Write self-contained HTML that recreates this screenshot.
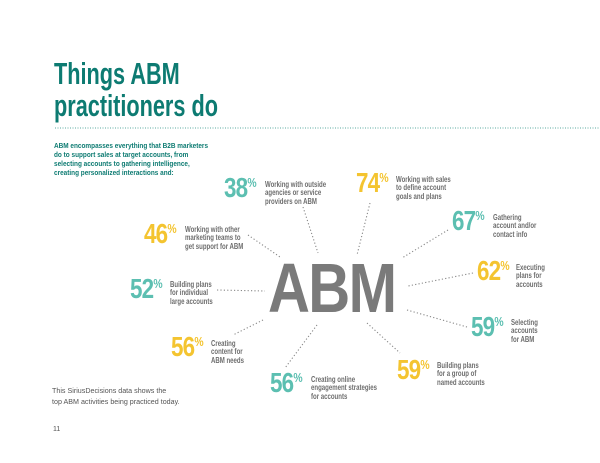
<!DOCTYPE html>
<html><head><meta charset="utf-8"><style>
body{margin:0;width:600px;height:463px;background:#fff;position:relative;overflow:hidden;font-family:"Liberation Sans",sans-serif}
.a{position:absolute;white-space:nowrap;transform-origin:0 0}
h1{position:absolute;left:54px;top:58px;margin:0;font-family:"Liberation Sans",sans-serif;font-weight:bold;font-size:31px;line-height:32px;color:#0d7b72;transform:scaleX(0.7);transform-origin:0 0;white-space:nowrap}
.intro{left:54px;top:141px;font-weight:bold;font-size:7.4px;line-height:9px;color:#0d7b72;transform:scaleX(0.87)}
.n{font-weight:bold;font-size:28px;line-height:24px;letter-spacing:-1px;transform:scaleX(0.8)}
.p{font-size:13px;vertical-align:top;line-height:13px;letter-spacing:0}
.t{color:#5cbfb1}
.y{color:#f4c430}
.l{font-weight:bold;font-size:8.3px;line-height:8.3px;color:#6d6d6d;transform:scaleX(0.73)}
.abm{left:268px;top:252px;font-weight:bold;font-size:70px;line-height:72px;color:#7a7a7a;letter-spacing:-2px;transform:scaleX(0.83)}
.foot{left:52px;top:385px;font-size:7.6px;line-height:11px;color:#555;transform:scaleX(0.94)}
</style></head><body>
<h1>Things ABM<br>practitioners do</h1>
<svg class="a" style="left:0;top:0" width="600" height="463">
<line x1="55" y1="128" x2="600" y2="128" stroke="#5aa9a0" stroke-width="1" stroke-dasharray="1 1.5"/>
<g stroke="#888" stroke-width="1.1" stroke-dasharray="1.2 2.2">
<line x1="303" y1="207" x2="318" y2="253"/>
<line x1="370" y1="203" x2="357" y2="255"/>
<line x1="448" y1="230" x2="402" y2="258"/>
<line x1="473" y1="273" x2="408" y2="286"/>
<line x1="407" y1="310" x2="467" y2="327"/>
<line x1="367" y1="323" x2="400" y2="353"/>
<line x1="317" y1="325" x2="285" y2="368"/>
<line x1="263" y1="320" x2="233" y2="335"/>
<line x1="217" y1="290" x2="265" y2="291"/>
<line x1="248" y1="235" x2="280" y2="257"/>
</g></svg>
<div class="a intro">ABM encompasses everything that B2B marketers<br>do to support sales at target accounts, from<br>selecting accounts to gathering intelligence,<br>creating personalized interactions and:</div>

<div class="a n t" style="left:224px;top:176px">38<span class="p">%</span></div>
<div class="a l" style="left:265px;top:180px">Working with outside<br>agencies or service<br>providers on ABM</div>

<div class="a n y" style="left:356px;top:171px">74<span class="p">%</span></div>
<div class="a l" style="left:396px;top:175px">Working with sales<br>to define account<br>goals and plans</div>

<div class="a n t" style="left:452px;top:209px">67<span class="p">%</span></div>
<div class="a l" style="left:493px;top:213px">Gathering<br>account and/or<br>contact info</div>

<div class="a n y" style="left:477px;top:259px">62<span class="p">%</span></div>
<div class="a l" style="left:516px;top:263px">Executing<br>plans for<br>accounts</div>

<div class="a n t" style="left:471px;top:315px">59<span class="p">%</span></div>
<div class="a l" style="left:511px;top:318px">Selecting<br>accounts<br>for ABM</div>

<div class="a n y" style="left:397px;top:358px">59<span class="p">%</span></div>
<div class="a l" style="left:437px;top:361px">Building plans<br>for a group of<br>named accounts</div>

<div class="a n t" style="left:270px;top:371px">56<span class="p">%</span></div>
<div class="a l" style="left:311px;top:375px">Creating online<br>engagement strategies<br>for accounts</div>

<div class="a n y" style="left:171px;top:335px">56<span class="p">%</span></div>
<div class="a l" style="left:211px;top:339px">Creating<br>content for<br>ABM needs</div>

<div class="a n t" style="left:130px;top:277px">52<span class="p">%</span></div>
<div class="a l" style="left:170px;top:280px">Building plans<br>for individual<br>large accounts</div>

<div class="a n y" style="left:144px;top:222px">46<span class="p">%</span></div>
<div class="a l" style="left:185px;top:225px">Working with other<br>marketing teams to<br>get support for ABM</div>

<div class="a abm">ABM</div>
<div class="a foot">This SiriusDecisions data shows the<br>top ABM activities being practiced today.</div>
<div class="a" style="left:53px;top:426px;font-size:7px;color:#555">11</div>
</body></html>
